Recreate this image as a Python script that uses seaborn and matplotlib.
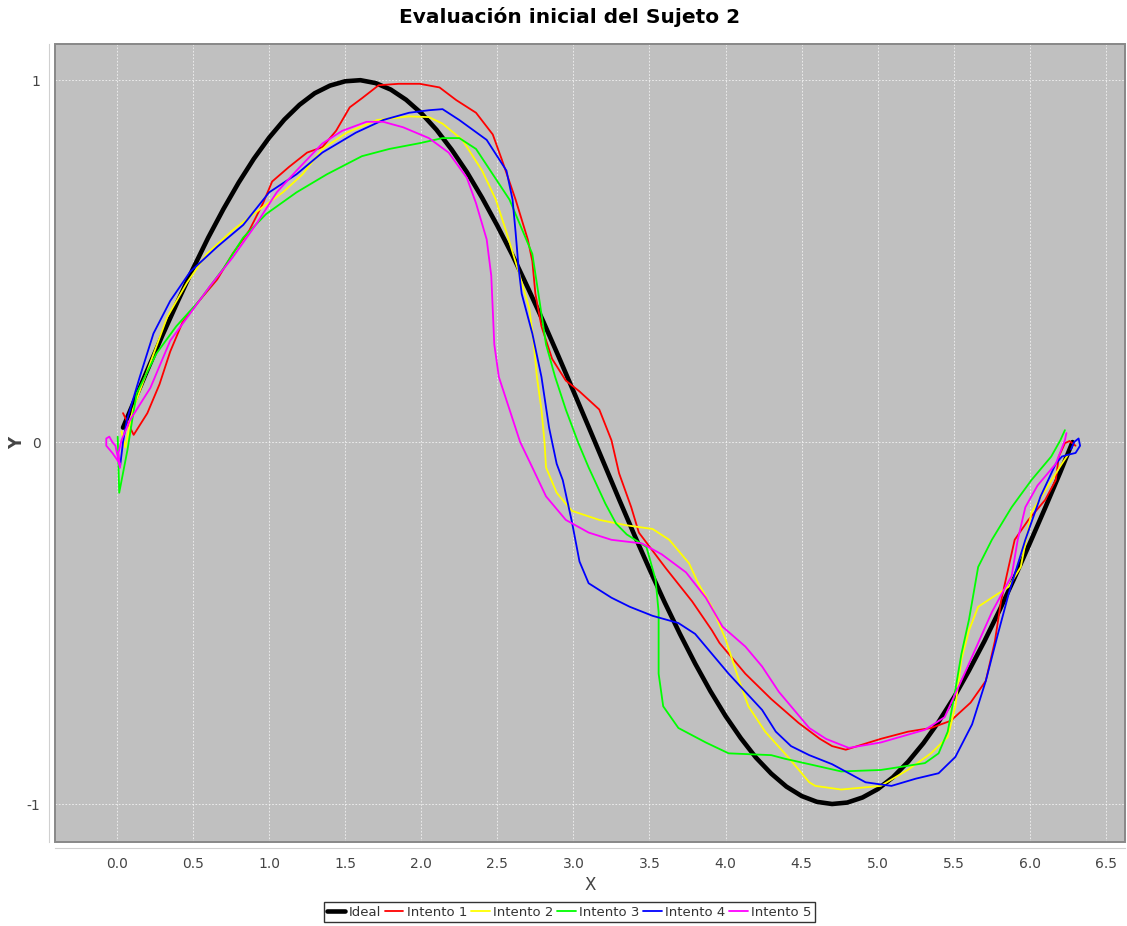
import numpy as np
import pandas as pd
import matplotlib
matplotlib.use('Agg')
import matplotlib.pyplot as plt
from matplotlib.patches import Rectangle
import seaborn as sns

# ── Datos ─────────────────────────────────────────────────────────────────────
TITLE = "Evaluación inicial del Sujeto 2"

IDEAL_X = [0.04, 0.1, 0.2, 0.3, 0.4, 0.5, 0.6, 0.7, 0.8, 0.9, 1.0, 1.1, 1.2, 1.3,
           1.4, 1.5, 1.6, 1.7, 1.8, 1.9, 2.0, 2.1, 2.2, 2.3, 2.4, 2.5, 2.6, 2.7,
           2.8, 2.9, 3.0, 3.1, 3.2, 3.3, 3.4, 3.5, 3.6, 3.7, 3.8, 3.9, 4.0, 4.1,
           4.2, 4.3, 4.4, 4.5, 4.6, 4.7, 4.8, 4.9, 5.0, 5.1, 5.2, 5.3, 5.4, 5.5,
           5.6, 5.7, 5.8, 5.9, 6.0, 6.1, 6.2, 6.28]
IDEAL_Y = [0.04, 0.100, 0.199, 0.296, 0.389, 0.479, 0.565, 0.644, 0.717, 0.783,
           0.841, 0.891, 0.932, 0.964, 0.985, 0.997, 1.000, 0.992, 0.974, 0.946,
           0.909, 0.863, 0.808, 0.746, 0.675, 0.598, 0.516, 0.427, 0.335, 0.239,
           0.141, 0.042, -0.058, -0.158, -0.256, -0.351, -0.443, -0.530, -0.612,
           -0.688, -0.757, -0.818, -0.872, -0.916, -0.952, -0.978, -0.994, -1.000,
           -0.996, -0.982, -0.959, -0.926, -0.883, -0.832, -0.773, -0.706, -0.631,
           -0.551, -0.465, -0.374, -0.279, -0.182, -0.083, 0.0]

INTENTO_1 = [(0.04, 0.08), (0.11, 0.02), (0.2, 0.08), (0.28, 0.16), (0.35, 0.25),
             (0.43, 0.33), (0.54, 0.39), (0.66, 0.45), (0.76, 0.52), (0.87, 0.585),
             (0.96, 0.66), (1.02, 0.72), (1.13, 0.76), (1.25, 0.80), (1.35, 0.815),
             (1.44, 0.86), (1.53, 0.925), (1.61, 0.95), (1.72, 0.986), (1.85, 0.99),
             (1.99, 0.99), (2.12, 0.98), (2.23, 0.945), (2.36, 0.91), (2.47, 0.85),
             (2.53, 0.78), (2.62, 0.67), (2.70, 0.56), (2.73, 0.50), (2.75, 0.41),
             (2.79, 0.32), (2.86, 0.23), (2.95, 0.17), (3.04, 0.14), (3.17, 0.09),
             (3.25, 0.005), (3.30, -0.086), (3.38, -0.18), (3.43, -0.25),
             (3.61, -0.35), (3.78, -0.44), (3.91, -0.52), (3.96, -0.555),
             (4.13, -0.64), (4.30, -0.71), (4.48, -0.776), (4.62, -0.82),
             (4.70, -0.84), (4.79, -0.85), (5.02, -0.82), (5.20, -0.80),
             (5.35, -0.79), (5.48, -0.77), (5.61, -0.72), (5.71, -0.66),
             (5.77, -0.55), (5.81, -0.44), (5.86, -0.345), (5.90, -0.27),
             (5.99, -0.215), (6.10, -0.16), (6.17, -0.105), (6.19, -0.04),
             (6.23, -0.003), (6.26, 0.003), (6.30, -0.01)]

INTENTO_2 = [(0.03, 0.03), (0.055, -0.015), (0.105, 0.09), (0.22, 0.22), (0.33, 0.345),
             (0.46, 0.44), (0.59, 0.52), (0.76, 0.585), (0.96, 0.65), (1.09, 0.69),
             (1.22, 0.74), (1.35, 0.81), (1.51, 0.855), (1.71, 0.89), (1.92, 0.90),
             (2.05, 0.898), (2.14, 0.88), (2.27, 0.835), (2.40, 0.75), (2.49, 0.67),
             (2.56, 0.58), (2.64, 0.47), (2.71, 0.37), (2.74, 0.27), (2.76, 0.18),
             (2.79, 0.09), (2.81, 0.0), (2.82, -0.07), (2.89, -0.14), (2.99, -0.19),
             (3.17, -0.215), (3.35, -0.23), (3.52, -0.24), (3.63, -0.27),
             (3.76, -0.335), (3.82, -0.39), (3.91, -0.455), (4.0, -0.545),
             (4.09, -0.66), (4.15, -0.73), (4.26, -0.80), (4.41, -0.87),
             (4.55, -0.94), (4.59, -0.95), (4.76, -0.96), (5.02, -0.95),
             (5.20, -0.905), (5.35, -0.86), (5.46, -0.815), (5.51, -0.73),
             (5.55, -0.60), (5.60, -0.52), (5.66, -0.455), (5.75, -0.43),
             (5.86, -0.40), (5.94, -0.345), (6.01, -0.195), (6.12, -0.12),
             (6.21, -0.06), (6.25, -0.035)]

INTENTO_3 = [(0.005, 0.015), (0.015, -0.14), (0.07, -0.02), (0.10, 0.06), (0.13, 0.135),
             (0.26, 0.245), (0.39, 0.32), (0.54, 0.39), (0.70, 0.48), (0.83, 0.565),
             (0.98, 0.63), (1.18, 0.69), (1.38, 0.74), (1.61, 0.79), (1.79, 0.81),
             (1.99, 0.826), (2.14, 0.84), (2.25, 0.84), (2.36, 0.81), (2.47, 0.74),
             (2.58, 0.67), (2.66, 0.59), (2.73, 0.52), (2.77, 0.41), (2.82, 0.27),
             (2.88, 0.18), (2.95, 0.09), (3.03, 0.0), (3.10, -0.07), (3.21, -0.17),
             (3.28, -0.225), (3.35, -0.255), (3.48, -0.29), (3.54, -0.38),
             (3.56, -0.47), (3.56, -0.64), (3.59, -0.73), (3.69, -0.79),
             (3.87, -0.83), (4.02, -0.86), (4.30, -0.865), (4.39, -0.875),
             (4.55, -0.89), (4.76, -0.91), (5.02, -0.906), (5.31, -0.887),
             (5.40, -0.86), (5.46, -0.80), (5.51, -0.685), (5.55, -0.585),
             (5.60, -0.49), (5.66, -0.345), (5.75, -0.27), (5.88, -0.18),
             (6.01, -0.105), (6.14, -0.04), (6.20, 0.005), (6.23, 0.033)]

INTENTO_4 = [(0.02, -0.07), (0.04, 0.0), (0.065, 0.06), (0.15, 0.18), (0.24, 0.30),
             (0.35, 0.39), (0.48, 0.47), (0.66, 0.54), (0.83, 0.60), (1.0, 0.69),
             (1.18, 0.74), (1.35, 0.80), (1.57, 0.855), (1.75, 0.89), (1.92, 0.91),
             (2.05, 0.917), (2.14, 0.92), (2.25, 0.89), (2.43, 0.835), (2.56, 0.75),
             (2.60, 0.67), (2.62, 0.58), (2.64, 0.48), (2.66, 0.41), (2.73, 0.30),
             (2.79, 0.18), (2.84, 0.04), (2.89, -0.06), (2.93, -0.105), (2.99, -0.22),
             (3.04, -0.33), (3.10, -0.39), (3.25, -0.43), (3.37, -0.455),
             (3.52, -0.48), (3.69, -0.50), (3.80, -0.53), (3.91, -0.585),
             (4.02, -0.64), (4.13, -0.69), (4.24, -0.74), (4.33, -0.80),
             (4.43, -0.84), (4.55, -0.865), (4.70, -0.89), (4.92, -0.94),
             (5.09, -0.95), (5.25, -0.93), (5.40, -0.915), (5.51, -0.87),
             (5.62, -0.78), (5.71, -0.66), (5.79, -0.53), (5.86, -0.42),
             (5.97, -0.27), (6.07, -0.15), (6.17, -0.06), (6.21, -0.04),
             (6.25, -0.035), (6.30, -0.03), (6.33, -0.01), (6.32, 0.01),
             (6.29, 0.0), (6.27, -0.02)]

INTENTO_5 = [(0.02, -0.06), (-0.03, -0.03), (-0.07, -0.01), (-0.07, 0.01), (-0.05, 0.015),
             (-0.03, 0.0), (-0.01, -0.01), (0.02, -0.07), (0.01, -0.03), (0.03, 0.005),
             (0.085, 0.06), (0.22, 0.15), (0.35, 0.28), (0.48, 0.355), (0.61, 0.43),
             (0.76, 0.51), (0.92, 0.605), (1.05, 0.69), (1.18, 0.75), (1.35, 0.825),
             (1.48, 0.86), (1.64, 0.885), (1.75, 0.885), (1.88, 0.87), (2.05, 0.84),
             (2.18, 0.80), (2.30, 0.73), (2.36, 0.66), (2.43, 0.56), (2.46, 0.46),
             (2.48, 0.27), (2.51, 0.18), (2.58, 0.09), (2.65, 0.0), (2.73, -0.07),
             (2.82, -0.15), (2.95, -0.215), (3.10, -0.25), (3.25, -0.27),
             (3.45, -0.28), (3.58, -0.31), (3.74, -0.36), (3.87, -0.43),
             (3.98, -0.51), (4.13, -0.565), (4.24, -0.62), (4.35, -0.69),
             (4.55, -0.79), (4.66, -0.82), (4.81, -0.845), (5.02, -0.83),
             (5.31, -0.795), (5.44, -0.76), (5.57, -0.64), (5.66, -0.555),
             (5.75, -0.47), (5.84, -0.40), (5.88, -0.37), (5.92, -0.27),
             (5.97, -0.18), (6.05, -0.12), (6.17, -0.06), (6.23, 0.005),
             (6.24, 0.025)]

SERIES = ['Intento 1', 'Intento 2', 'Intento 3', 'Intento 4', 'Intento 5']
COLORS = ['#ff0000', '#ffff00', '#00ff00', '#0000ff', '#ff00ff']
X_TICKS = [0.0, 0.5, 1.0, 1.5, 2.0, 2.5, 3.0, 3.5, 4.0, 4.5, 5.0, 5.5, 6.0, 6.5]
Y_TICKS = [-1, 0, 1]

# ── Estilo ────────────────────────────────────────────────────────────────────
sns.set_style('white')
plt.rcParams['font.family'] = ['DejaVu Sans']
plt.rcParams['axes.unicode_minus'] = False

fig = plt.figure(figsize=(11.27, 9.26), dpi=100)
ax = fig.add_axes([55 / 1127, 1 - 842 / 926, 1070 / 1127, 798 / 926])
ax.set_facecolor('#c0c0c0')

ideal = pd.DataFrame({'x': IDEAL_X, 'y': IDEAL_Y})
sns.lineplot(data=ideal, x='x', y='y', color='black', lw=3.3, sort=False,
             estimator=None, ax=ax, label='Ideal', zorder=3)

for name, pts, col in zip(SERIES, [INTENTO_1, INTENTO_2, INTENTO_3, INTENTO_4, INTENTO_5], COLORS):
    d = pd.DataFrame(pts, columns=['x', 'y'])
    sns.lineplot(data=d, x='x', y='y', color=col, lw=1.3, sort=False,
                 estimator=None, ax=ax, label=name, zorder=4)

ax.set_xlim(-0.407, 6.625)
ax.set_ylim(-1.105, 1.10)
ax.set_xticks(X_TICKS)
ax.set_xticklabels([f'{t:.1f}' for t in X_TICKS])
ax.set_yticks(Y_TICKS)
ax.grid(True, color='white', ls=(0, (2, 2)), lw=0.6, alpha=0.8)

# ejes separados del borde, estilo JFreeChart
for s in ['left', 'bottom']:
    ax.spines[s].set_position(('outward', 4))
    ax.spines[s].set_color('#d0d0d0')
for s in ['top', 'right']:
    ax.spines[s].set_visible(False)
ax.add_patch(Rectangle((0, 0), 1, 1, transform=ax.transAxes, fill=False,
                       ec='#888888', lw=1.4, clip_on=False, zorder=5))
ax.tick_params(axis='both', direction='out', length=3, width=0.8, color='#b0b0b0',
               labelcolor='#444444', labelsize=10)

ax.set_xlabel('X', fontsize=12, color='#444444', labelpad=4)
ax.set_ylabel('Y', fontsize=12, color='#444444', fontweight='bold')
ax.yaxis.set_label_coords(-0.027, 0.5)
fig.suptitle(TITLE, x=0.505, y=0.992, fontsize=14.5, fontweight='bold', va='top',
             color='black')

leg = ax.legend(loc='center', bbox_to_anchor=(0.505, 0.015), bbox_transform=fig.transFigure,
                ncol=6, frameon=True, fancybox=False, fontsize=9.5, handlelength=1.4,
                handletextpad=0.25, columnspacing=0.3, borderpad=0.25, borderaxespad=0)
leg.get_frame().set_edgecolor('black')
leg.get_frame().set_linewidth(1.0)
for t in leg.get_texts():
    t.set_color('#333333')

plt.savefig('out.png', dpi=100)
